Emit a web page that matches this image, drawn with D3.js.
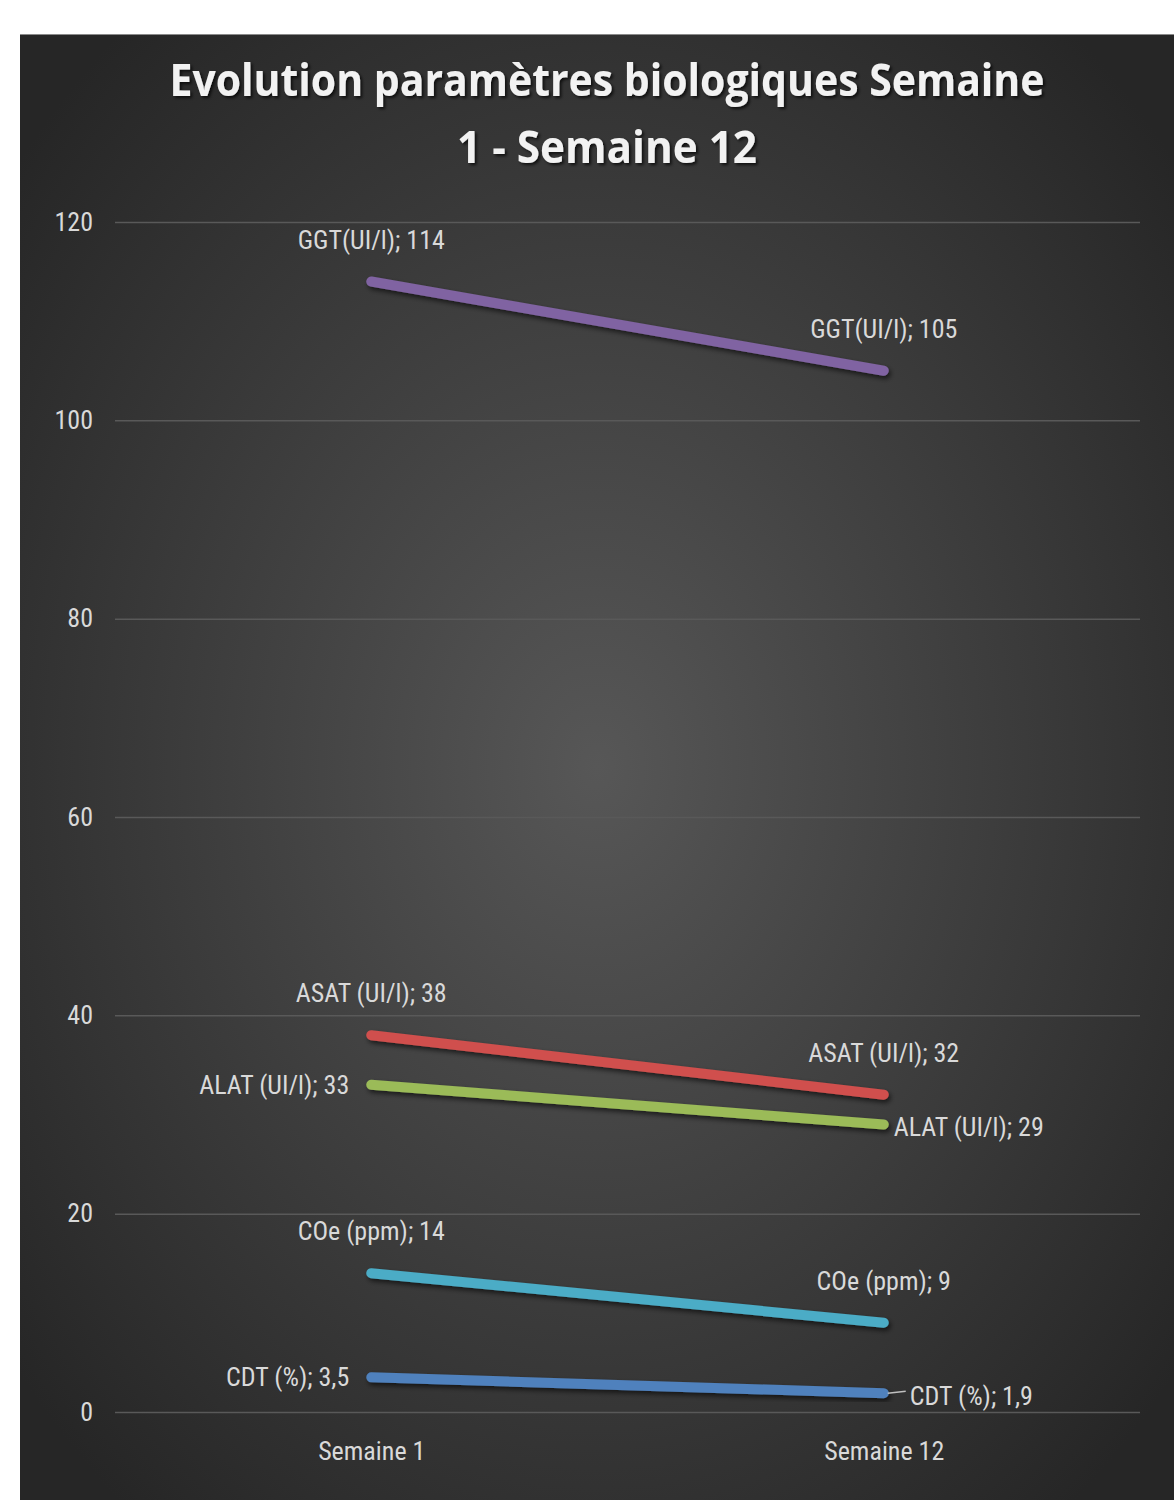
<!DOCTYPE html>
<html><head><meta charset="utf-8">
<script src="https://cdn.jsdelivr.net/npm/d3@7"></script>
<style>body{margin:0;background:#fff;} svg{display:block;}</style>
</head><body>
<svg id="c" width="1174" height="1500"></svg>
<script>
const categories = ["Semaine 1", "Semaine 12"];
const seriesNames = ["GGT(UI/l)", "ASAT (UI/l)", "ALAT (UI/l)", "COe (ppm)", "CDT (%)"];
const week1Values = [114, 38, 33, 14, 3.5];
const week12Values = [105, 32, 29, 9, 1.9];
const seriesColors = ["#8064a2", "#d0504d", "#9bbb59", "#4bacc6", "#4f81bd"];
const yTicks = [0, 20, 40, 60, 80, 100, 120];
// label placement per point: [week1, week12]
const labelPos = [["above","above"],["above","above"],["left","right"],["above","above"],["left","right"]];

const svg = d3.select("#c");
const defs = svg.append("defs");
const rg = defs.append("radialGradient").attr("id","bg").attr("cx","50%").attr("cy","50%").attr("r","65%");
rg.append("stop").attr("offset","0%").attr("stop-color","#575757");
rg.append("stop").attr("offset","100%").attr("stop-color","#262626");
const f = defs.append("filter").attr("id","sh").attr("x","-10%").attr("y","-50%").attr("width","120%").attr("height","200%");
f.append("feDropShadow").attr("dx",2).attr("dy",3).attr("stdDeviation",2.5).attr("flood-color","#000").attr("flood-opacity",0.6);
const ft = defs.append("filter").attr("id","tsh");
ft.append("feDropShadow").attr("dx",2).attr("dy",2).attr("stdDeviation",1.5).attr("flood-color","#000").attr("flood-opacity",0.7);

svg.append("rect").attr("x",20).attr("y",34).attr("width",1154).attr("height",1466).attr("fill","url(#bg)");
svg.append("line").attr("x1",20).attr("x2",1174).attr("y1",34.5).attr("y2",34.5).attr("stroke","#8a8a8a").attr("stroke-width",1);

const labelFont = "'Liberation Sans Narrow','Roboto Condensed','Open Sans',sans-serif";

// title
const title = svg.append("text").attr("text-anchor","middle").attr("fill","#f2f2f2")
  .attr("font-family","'Open Sans',sans-serif").attr("font-weight","bold").attr("font-size",45)
  .attr("filter","url(#tsh)");
title.append("tspan").attr("x",607).attr("y",96).text("Evolution paramètres biologiques Semaine");
title.append("tspan").attr("x",607).attr("y",163).text("1 - Semaine 12");
title.selectAll("tspan").each(function(d,i){
  const target = i===0 ? 875 : 300;
  d3.select(this).attr("textLength",target).attr("lengthAdjust","spacingAndGlyphs");
});

const x = d3.scalePoint().domain(categories).range([115,1140]).padding(0.5);
const y = d3.scaleLinear().domain([0,120]).range([1412,222]);

// grid
const yAxis = d3.axisLeft(y).tickValues(yTicks).tickSize(-(1140-115)).tickPadding(22);
const ga = svg.append("g").attr("transform","translate(115,0)").call(yAxis);
ga.select(".domain").remove();
ga.selectAll(".tick line").attr("stroke","#595959").attr("stroke-width",1.5);
ga.selectAll(".tick text").attr("fill","#d9d9d9").attr("font-size",26).attr("font-family",labelFont);

const xAxis = d3.axisBottom(x).tickSize(0).tickPadding(30);
const gx = svg.append("g").attr("transform","translate(0,1412)").call(xAxis);
gx.select(".domain").remove();
gx.selectAll(".tick text").attr("fill","#d9d9d9").attr("font-size",26).attr("font-family",labelFont);

const series = seriesNames.map((n,i)=>({name:n,color:seriesColors[i],values:[week1Values[i],week12Values[i]],pos:labelPos[i]}));
const line = d3.line().x((d,i)=>x(categories[i])).y(d=>y(d));

svg.append("g").selectAll("path").data(series).join("path")
  .attr("d",d=>line(d.values)).attr("fill","none").attr("stroke",d=>d.color)
  .attr("stroke-width",10).attr("stroke-linecap","round").attr("filter","url(#sh)");

const fmt = v => String(v).replace(".",",");
const lg = svg.append("g");
series.forEach(s=>{
  s.values.forEach((v,i)=>{
    const px = x(categories[i]), py = y(v);
    const p = s.pos[i];
    const t = lg.append("text").attr("fill","#d9d9d9").attr("font-size",26).attr("font-family",labelFont)
      .text(s.name+"; "+fmt(v));
    if(p==="above"){ t.attr("x",px).attr("y",py-33).attr("text-anchor","middle"); }
    else if(p==="left"){ t.attr("x",px-22).attr("y",py+9).attr("text-anchor","end"); }
    else {
      const off = (i===1 && v<5) ? 26 : 10;
      t.attr("x",px+off).attr("y",py+12).attr("text-anchor","start");
      if(off>10) lg.append("line").attr("x1",px+4).attr("x2",px+off-4).attr("y1",py).attr("y2",py-2).attr("stroke","#bfbfbf").attr("stroke-width",1.5);
    }
  });
});
</script>
</body></html>
